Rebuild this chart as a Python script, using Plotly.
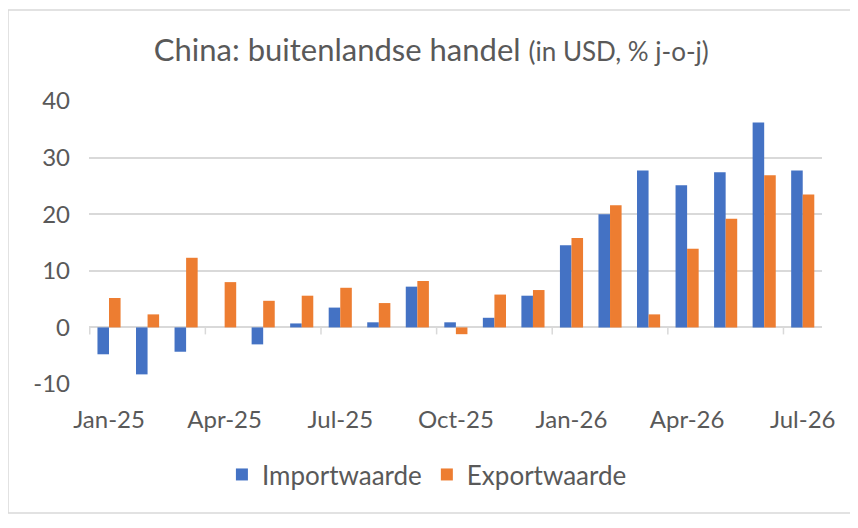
import plotly.graph_objects as go

# Maanden (categorieën) en groei j-o-j in %
months = [
    "Jan-25", "Feb-25", "Mar-25", "Apr-25", "May-25", "Jun-25", "Jul-25",
    "Aug-25", "Sep-25", "Oct-25", "Nov-25", "Dec-25", "Jan-26", "Feb-26",
    "Mar-26", "Apr-26", "May-26", "Jun-26", "Jul-26",
]
import_vals = [-4.75, -8.3, -4.3, 0.0, -3.0, 0.7, 3.5, 0.9, 7.2, 0.9,
               1.7, 5.6, 14.5, 20.0, 27.7, 25.1, 27.4, 36.2, 27.7]
export_vals = [5.2, 2.3, 12.3, 8.0, 4.7, 5.6, 7.0, 4.3, 8.2, -1.2,
               5.8, 6.6, 15.8, 21.6, 2.3, 13.9, 19.2, 26.9, 23.5]
y_ticks = [-10, 0, 10, 20, 30, 40]
y_ticktext = ["-10", "0", "10", "20", "30", "40"]

FONT = "Lato"
GREY = "#595959"
GRID = "#d9d9d9"

fig = go.Figure()
fig.add_trace(go.Bar(x=months, y=import_vals, name="Importwaarde",
                     marker=dict(color="#4472C4", line_width=0)))
fig.add_trace(go.Bar(x=months, y=export_vals, name="Exportwaarde",
                     marker=dict(color="#ED7D31", line_width=0)))

# kleine tickmarks op de nul-lijn, elke 3 maanden (op de categoriegrenzen)
for i in range(0, len(months), 3):
    fig.add_shape(type="line", xref="x", yref="y", ysizemode="pixel",
                  yanchor=0, x0=i - 0.5, x1=i - 0.5, y0=0, y1=-7,
                  line=dict(color=GRID, width=1.5))

# rand om de hele grafiek
fig.add_shape(type="rect", xref="paper", yref="paper",
              x0=-0.1105, x1=1.0396, y0=-0.456, y1=1.3216,
              line=dict(color=GRID, width=1.5), fillcolor="rgba(0,0,0,0)")

# de pagina zet de grafiek 8px naar rechts/onder, dus iets kleiner maken
fig.update_layout(
    width=850, height=520,
    margin=dict(l=81, r=36, t=93, b=144),
    paper_bgcolor="white", plot_bgcolor="white",
    font=dict(family=FONT, color=GREY, size=24),
    title=dict(
        text="China: buitenlandse handel <span style='font-size:26px'>(in USD, % j-o-j)</span>",
        x=0.498, xanchor="center", y=0.919, yanchor="middle",
        font=dict(family=FONT, size=31, color=GREY),
    ),
    barmode="group", bargap=0.40, bargroupgap=0,
    legend=dict(orientation="h", x=0.461, xanchor="center", y=-0.32,
                yanchor="middle", font=dict(size=26, color=GREY),
                itemwidth=30),
    xaxis=dict(
        tickvals=months[::3], showgrid=False, showline=False, ticks="",
        ticklabelstandoff=19, tickfont=dict(size=24, color=GREY),
    ),
    yaxis=dict(
        range=[-10, 40], tickvals=y_ticks, ticktext=y_ticktext,
        showgrid=True, gridcolor=GRID, gridwidth=1.5,
        zeroline=True, zerolinecolor=GRID, zerolinewidth=1.5,
        showline=False, ticks="", ticklabelstandoff=18,
        tickfont=dict(size=24, color=GREY),
    ),
)

fig.write_html("out.html")
